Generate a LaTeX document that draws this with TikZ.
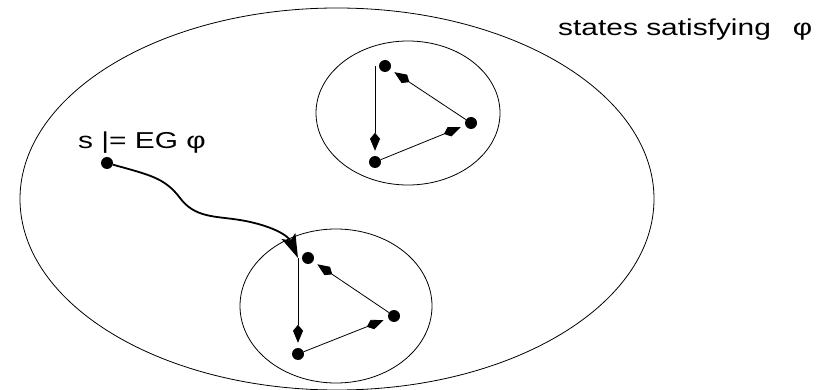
\documentclass[tikz,border=0pt]{standalone}
\usepackage{fontspec}
\setmainfont{Liberation Sans}
\newfontfamily\figfont[FakeStretch=1.3]{Liberation Sans}
\usetikzlibrary{arrows.meta, shapes.geometric}
\tikzset{
  region/.style={ellipse, draw, line width=0.8pt, inner sep=0pt},
  state/.style={circle, fill, inner sep=0pt, minimum size=12pt},
  trans/.style={-{Kite[length=18pt,width=10pt,inset=6pt]}, line width=0.8pt,
                shorten >=5pt},
  witness/.style={-{Stealth[length=24pt,width=15pt,inset=5pt]}, line width=1.8pt},
  lbl/.style={font=\figfont\fontsize{23}{27}\selectfont, inner sep=0pt,
              anchor=base west},
}

\begin{document}
\begin{tikzpicture}[x=1pt, y=-1pt]
  \useasboundingbox (0,0) rectangle (830,390);

  % the set of all states and the two SCCs inside it
  \node[region, minimum width=634pt, minimum height=382pt] (world) at (337,199) {};
  \node[region, minimum width=184pt, minimum height=144pt] (sccA) at (408,113) {};
  \node[region, minimum width=192pt, minimum height=154pt] (sccB) at (336,306) {};

  \node[lbl] (phi) at (558,36) {states satisfying\hspace{22pt}φ};

  % upper SCC
  \node[state] (a1) at (385,66) {};
  \node[state] (a2) at (471,123) {};
  \node[state] (a3) at (375,162) {};
  \draw[trans] ([xshift=-10pt]a1.center) -- (a3);
  \draw[trans] (a3) -- (a2);
  \draw[trans] (a2) -- (a1);

  % lower SCC
  \node[state] (b1) at (308,258) {};
  \node[state] (b2) at (394,316) {};
  \node[state] (b3) at (298,354) {};
  \coordinate (b1l) at ([xshift=-10pt]b1.center);
  \draw[trans] (b1l) -- (b3);
  \draw[trans] (b3) -- (b2);
  \draw[trans] (b2) -- (b1);

  % state s and its path into the lower SCC
  \node[state] (s) at (107,163) {};
  \node[lbl] (slbl) at (78,149) {s |= EG φ};
  \draw[witness] (s) .. controls (150,175) and (165,178) .. (180,198)
                     .. controls (195,218) and (215,216) .. (240,220)
                     .. controls (270,225) and (288,235) .. (b1l);
\end{tikzpicture}
\end{document}
